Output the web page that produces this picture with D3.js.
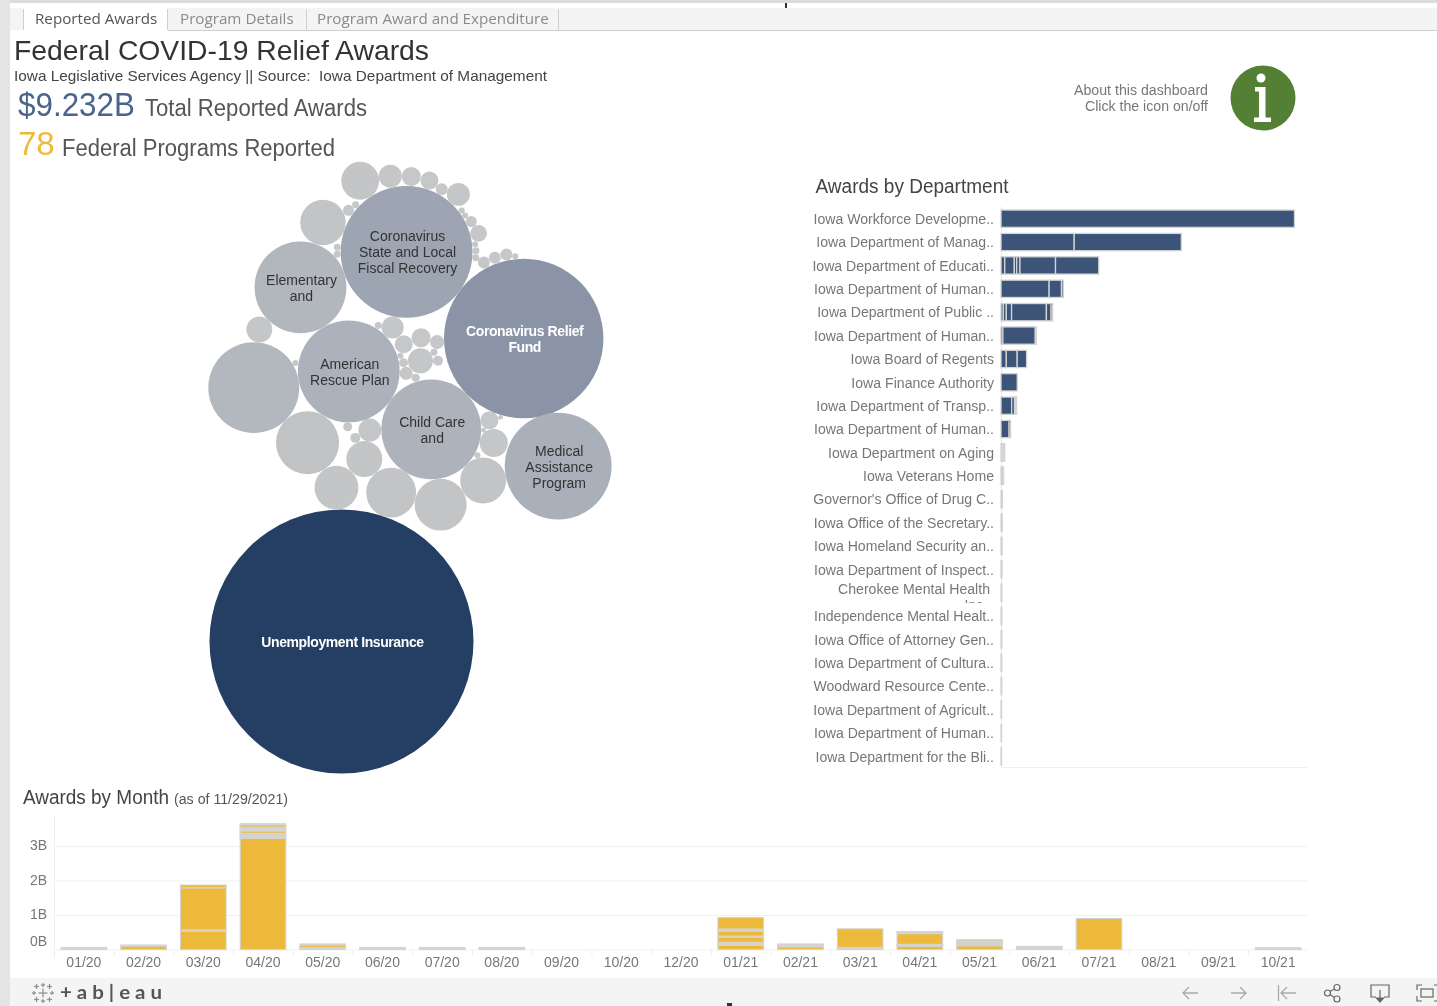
<!DOCTYPE html>
<html>
<head>
<meta charset="utf-8">
<title>Federal COVID-19 Relief Awards</title>
<script src="https://cdn.jsdelivr.net/npm/d3@7"></script>
<style>
  html, body { margin: 0; padding: 0; background: #fff; overflow: hidden; }
  svg { display: block; font-family: "Liberation Sans", Arial, sans-serif; filter: blur(0.3px); }
  text { white-space: pre; }
  .domain { display: none; }
</style>
</head>
<body>
<script>
// Tabs and headline numbers
const tabNames = ["Reported Awards", "Program Details", "Program Award and Expenditure"];
const totalAwards = "$9.232B";
const programCount = "78";

// Programs, award in $M
const programIds = ["ui", "g391", "g336", "g364", "g441", "child", "g484", "g492", "g489", "crf", "med", "g368", "arp",
  "g406", "g403", "g420", "g398", "g405", "g392", "cslfr", "elem", "g423", "g437", "g436", "g437c", "g410",
  "g308", "g252", "g260", "g322", "g348", "g357", "g361", "g391t", "g412", "g431", "g443", "g459", "g463", "g465",
  "g471", "g478", "g472", "g473", "g474", "g483", "g493", "g505", "g514", "g336b", "g336a", "g354", "g346",
  "g293", "g379", "g478b", "g482", "g498"];
const programAwards = [3440, 123, 95, 64, 133, 492, 104, 39, 16, 1255, 564, 26, 512,
  8.3, 4, 31, 1.8, 16, 24, 858, 417, 18, 9.7, 2.4, 4.9, 3.2,
  196, 408, 33, 102, 6, 2.4, 71, 26, 18, 16, 7.1, 26, 1.8, 1.8,
  6, 14, 1.8, 2.4, 2.4, 7.1, 7.1, 7.1, 1.8, 2.4, 2.4, 4.9, 4,
  1.8, 2.4, 1.8, 1.2, 1.2];
const programLabels = {
  ui: ["Unemployment Insurance"],
  crf: ["Coronavirus Relief", "Fund"],
  cslfr: ["Coronavirus", "State and Local", "Fiscal Recovery"],
  arp: ["American", "Rescue Plan"],
  child: ["Child Care", "and"],
  elem: ["Elementary", "and"],
  med: ["Medical", "Assistance", "Program"]
};

// Which bubbles each bubble leans on in the packing: [id, neighbour a, neighbour b, side, gap to b]
const packRules = [
  ["g336", "ui", "g391", -1, 8], ["g364", "g336", "g391", -1, 0], ["g441", "g391", "ui", -1, 11],
  ["child", "g391", "g441", -1, 0], ["g484", "g441", "child", 1, 0], ["g492", "child", "g484", -1, 2],
  ["g489", "child", "g492", -1, 0], ["crf", "child", "g489", -1, 0], ["med", "g484", "crf", 1, -1],
  ["g368", "g364", "child", -1, 0], ["arp", "child", "g368", 1, 0], ["g406", "arp", "child", -1, 5],
  ["g403", "arp", "g406", -1, 0], ["g420", "g406", "g403", 1, 0], ["g398", "arp", "g403", -1, 0],
  ["g405", "g398", "g420", -1, 2], ["g392", "arp", "g405", -1, 0], ["cslfr", "crf", "g392", 1, 0],
  ["elem", "arp", "cslfr", -1, 0], ["g423", "g405", "g420", -1, 1], ["g437", "g423", "crf", 1, 0],
  ["g436", "g420", "g437", 1, 0], ["g437c", "g420", "g436", 1, 1], ["g410", "g406", "child", -1, 0],
  ["g308", "arp", "g336", 1, 0], ["g252", "arp", "g308", 1, 0], ["g260", "g252", "elem", -1, 0],
  ["g322", "elem", "cslfr", -1, 0], ["g348", "g322", "cslfr", -1, 0], ["g357", "g348", "cslfr", -1, 0],
  ["g361", "cslfr", "g357", 1, 2], ["g391t", "g361", "cslfr", -1, 0], ["g412", "g391t", "cslfr", -1, 0],
  ["g431", "g412", "cslfr", -1, 0], ["g443", "g431", "cslfr", -1, 0], ["g459", "g443", "cslfr", -1, 0],
  ["g463", "cslfr", "g459", 1, 2], ["g465", "g463", "cslfr", -1, 0], ["g471", "g465", "cslfr", -1, 0],
  ["g478", "g471", "cslfr", -1, 0], ["g472", "g478", "cslfr", -1, 0], ["g473", "g472", "cslfr", -1, 0],
  ["g474", "g473", "cslfr", -1, 0], ["g483", "crf", "g474", 1, 0], ["g493", "crf", "g483", 1, 0],
  ["g505", "crf", "g493", 1, 0], ["g514", "crf", "g505", 1, 0], ["g336b", "cslfr", "elem", 1, 0],
  ["g336a", "g336b", "cslfr", -1, 0], ["g354", "g368", "g364", 1, 0], ["g346", "arp", "g354", 1, 4],
  ["g293", "g252", "arp", -1, 0], ["g379", "arp", "g392", -1, 0], ["g478b", "child", "g484", -1, 0],
  ["g482", "g489", "child", -1, 0], ["g498", "g489", "crf", 1, 0]
];

// Awards by department, $M per program inside each bar
const departments = ["Iowa Workforce Developme..", "Iowa Department of Manag..", "Iowa Department of Educati..",
  "Iowa Department of Human..", "Iowa Department of Public ..", "Iowa Department of Human..", "Iowa Board of Regents",
  "Iowa Finance Authority", "Iowa Department of Transp..", "Iowa Department of Human..", "Iowa Department on Aging",
  "Iowa Veterans Home", "Governor's Office of Drug C..", "Iowa Office of the Secretary..", "Iowa Homeland Security an..",
  "Iowa Department of Inspect..", "Cherokee Mental Health", "Independence Mental Healt..", "Iowa Office of Attorney Gen..",
  "Iowa Department of Cultura..", "Woodward Resource Cente..", "Iowa Department of Agricult..",
  "Iowa Department of Human..", "Iowa Department for the Bli.."];
const departmentAwards = [[3440], [858, 1255], [44, 112, 28, 38, 417, 507], [564, 145, 20], [27, 35, 62, 408, 55, 18],
  [22, 380, 11], [62, 128, 110], [190], [125, 34, 12, 12], [95, 18], [15, 14, 14], [10, 10, 10], [15], [14], [13], [12], [11], [10], [10],
  [9], [9], [8], [8], [7]];

// Awards by month, $B per program inside each bar
const months = ["01/20", "02/20", "03/20", "04/20", "05/20", "06/20", "07/20", "08/20", "09/20", "10/20", "12/20",
  "01/21", "02/21", "03/21", "04/21", "05/21", "06/21", "07/21", "08/21", "09/21", "10/21"];
const monthAwards = [
  [0.03, 0.03],
  [0.1, 0.03],
  [0.53, 0.04, 1.22, 0.08],
  [3.22, 0.03, 0.03, 0.03, 0.03, 0.03, 0.067, 0.028, 0.028, 0.028, 0.028, 0.067, 0.03],
  [0.03, 0.03, 0.07, 0.03],
  [0.03, 0.03],
  [0.03, 0.03],
  [0.03, 0.03],
  [], [], [],
  [0.12, 0.03, 0.03, 0.03, 0.145, 0.035, 0.145, 0.03, 0.03, 0.33],
  [0.08, 0.03, 0.03, 0.02],
  [0.03, 0.03, 0.54],
  [0.09, 0.03, 0.03, 0.31, 0.03, 0.03],
  [0.11, 0.035, 0.035, 0.035, 0.035, 0.035],
  [0.03, 0.03, 0.03],
  [0.9],
  [], [],
  [0.025, 0.025]
];
const monthTicks = [0, 1, 2, 3];

const blue = "#3c5478";
const yellow = "#ecb93a";
const segmentLine = "#d4d4d4";

const svg = d3.select("body").append("svg").attr("width", 1437).attr("height", 1006);

// width is optional: the original text is narrower than the same size here
function texto(x, y, str, size, color, anchor, width) {
  const t = svg.append("text")
    .attr("x", x).attr("y", y)
    .attr("font-size", size)
    .attr("fill", color)
    .attr("text-anchor", anchor || "start")
    .text(str);
  if (width) {
    t.attr("textLength", width).attr("lengthAdjust", "spacingAndGlyphs");
  }
  return t;
}

// page frame
svg.append("rect").attr("width", 1437).attr("height", 3).attr("fill", "#dcdcdc");
svg.append("rect").attr("width", 10).attr("height", 1006).attr("fill", "#e4e4e4");
svg.append("rect").attr("x", 10).attr("y", 8).attr("width", 1427).attr("height", 22).attr("fill", "#f4f4f4");
svg.append("rect").attr("x", 23).attr("y", 8).attr("width", 145).attr("height", 23).attr("fill", "#fff");
svg.append("line").attr("x1", 168).attr("x2", 1437).attr("y1", 30.5).attr("y2", 30.5).attr("stroke", "#cfcfcf");
svg.append("rect").attr("x", 10).attr("y", 978).attr("width", 1427).attr("height", 28).attr("fill", "#f4f4f4");
svg.append("rect").attr("x", 785).attr("y", 3).attr("width", 2).attr("height", 5).attr("fill", "#333");
svg.append("rect").attr("x", 727).attr("y", 1003).attr("width", 5).attr("height", 3).attr("fill", "#333");

// tabs
const tabLeft = [35, 180, 317];
const tabEdges = [23.5, 167.5, 306.5, 558.5];
tabEdges.forEach(x => {
  svg.append("line").attr("x1", x).attr("x2", x).attr("y1", 9).attr("y2", 30).attr("stroke", "#cfcfcf");
});
tabNames.forEach((name, i) => {
  texto(tabLeft[i], 24, name, 15.2, i == 0 ? "#555" : "#8a8a8a").style("font-family", "'Open Sans'");
});

// headline block
texto(14, 60, "Federal COVID-19 Relief Awards", 28, "#333", "start", 415);
texto(14, 81, "Iowa Legislative Services Agency || Source:  Iowa Department of Management", 15, "#444", "start", 533);
texto(18, 116, totalAwards, 33, "#4a648c", "start", 117);
texto(145, 116, "Total Reported Awards", 23.5, "#555", "start", 222);
texto(18, 155, programCount, 33, "#efb93c");
texto(62, 156, "Federal Programs Reported", 23.5, "#555", "start", 273);

// info button
texto(1208, 95, "About this dashboard", 14, "#777", "end", 134);
texto(1208, 111, "Click the icon on/off", 14, "#777", "end", 123);
svg.append("circle").attr("cx", 1263).attr("cy", 98).attr("r", 32.5).attr("fill", "#538035");
svg.append("circle").attr("cx", 1261).attr("cy", 78).attr("r", 4.5).attr("fill", "#fff");
svg.append("path").attr("fill", "#fff")
  .attr("d", "M1255 87h10.5v30.5h5.5v4.5h-17v-4.5h5v-26h-4z");

// ---- packed bubbles ----
const raio = d3.scaleSqrt().domain([0, d3.max(programAwards)]).range([0, 132]);
const corBolha = d3.scaleLinear()
  .domain([0, 200, 500, 858, 1255, 3440])
  .range(["#c5c7c8", "#c0c2c4", "#adb2bb", "#9ea5b2", "#8b94a6", "#243f63"]);

const bolhas = new Map();
programIds.forEach((id, i) => {
  bolhas.set(id, { id: id, value: programAwards[i], r: raio(programAwards[i]), x: 0, y: 0 });
});

// places p so that it touches a and b, same idea as d3.packSiblings
function encostar(p, a, b, side, extra) {
  const da = a.r + p.r;
  const db = b.r + p.r + extra;
  const dx = b.x - a.x;
  const dy = b.y - a.y;
  const d = Math.hypot(dx, dy);
  const t = (da * da - db * db + d * d) / (2 * d);
  const h = Math.sqrt(Math.max(0, da * da - t * t));
  p.x = a.x + (dx * t - dy * h * side) / d;
  p.y = a.y + (dy * t + dx * h * side) / d;
}

// the first neighbour leans on the big bubble, the rest follow the rules
const seedAngle = -1.249;
const seed = bolhas.get("g391");
seed.x = (bolhas.get("ui").r + seed.r) * Math.cos(seedAngle);
seed.y = (bolhas.get("ui").r + seed.r) * Math.sin(seedAngle);
packRules.forEach(rule => {
  encostar(bolhas.get(rule[0]), bolhas.get(rule[1]), bolhas.get(rule[2]), rule[3], rule[4]);
});

const pack = svg.append("g").attr("transform", "translate(341.5,641.5)");
pack.selectAll("circle")
  .data(Array.from(bolhas.values()))
  .join("circle")
  .attr("cx", d => d.x)
  .attr("cy", d => d.y)
  .attr("r", d => d.r)
  .attr("fill", d => corBolha(d.value));

Object.keys(programLabels).forEach(id => {
  const b = bolhas.get(id);
  const lines = programLabels[id];
  const light = b.value > 1000;
  lines.forEach((line, i) => {
    pack.append("text")
      .attr("x", b.x + 1)
      .attr("y", b.y + (i - (lines.length - 1) / 2) * 16 + 5.5)
      .attr("text-anchor", "middle")
      .attr("font-size", 14)
      .attr("font-weight", light ? "bold" : "normal")
      .attr("letter-spacing", light ? "-0.4" : "0")
      .attr("fill", light ? "#fff" : "#333")
      .text(line);
  });
});

// draws one stacked bar per row or column, segments keep a light outline
function pilha(g, values, strokeWidth, rect) {
  const tops = d3.cumsum(values);
  g.selectAll("rect")
    .data(values)
    .join("rect")
    .attr("stroke", segmentLine)
    .attr("stroke-width", strokeWidth)
    .each(function (v, i) {
      rect(d3.select(this), i == 0 ? 0 : tops[i - 1], tops[i]);
    });
}

// ---- awards by department ----
texto(815.5, 193, "Awards by Department", 20, "#444", "start", 193);

const xDep = d3.scaleLinear().domain([0, 3440]).range([1001, 1294.5]);
// by row number because some names repeat after the cut
const yDep = d3.scaleBand().domain(d3.range(departments.length)).range([207, 768]).paddingInner(0.26).paddingOuter(0.13);

svg.append("line").attr("x1", 1001.5).attr("x2", 1001.5).attr("y1", 207).attr("y2", 768).attr("stroke", "#e6e6e6");
svg.append("line").attr("x1", 1001).attr("x2", 1307).attr("y1", 767.5).attr("y2", 767.5).attr("stroke", "#f0f0f0");

const axisDep = svg.append("g")
  .attr("transform", "translate(1001,0)")
  .call(d3.axisLeft(yDep).tickFormat(i => departments[i]).tickSize(0).tickPadding(7));
axisDep.selectAll("text")
  .attr("font-size", 14)
  .attr("font-family", "Liberation Sans")
  .attr("fill", "#777")
  .attr("dy", "0.37em")
  .attr("textLength", function () { return this.getComputedTextLength() + 1; })
  .attr("lengthAdjust", "spacingAndGlyphs");

// this label wraps in the original and its second line gets cut
svg.append("clipPath").attr("id", "corteInc")
  .append("rect").attr("x", 900).attr("y", 580).attr("width", 100).attr("height", 23);
axisDep.selectAll("g.tick")
  .filter(i => departments[i] == "Cherokee Mental Health")
  .select("text").attr("x", -11).attr("dy", "0.1em");
svg.append("text")
  .attr("x", 987).attr("y", 610)
  .attr("text-anchor", "end")
  .attr("font-size", 14)
  .attr("fill", "#777")
  .attr("clip-path", "url(#corteInc)")
  .text("Inc.");

departments.forEach((dep, i) => {
  pilha(svg.append("g"), departmentAwards[i], 1.3, (r, start, end) => {
    r.attr("x", xDep(start))
      .attr("width", xDep(end) - xDep(start))
      .attr("y", yDep(i))
      .attr("height", yDep.bandwidth())
      .attr("fill", blue);
  });
});

// ---- awards by month ----
texto(23, 804, "Awards by Month", 20, "#444", "start", 146);
texto(174, 804, "(as of 11/29/2021)", 14, "#555", "start", 114);

const xMes = d3.scaleBand().domain(months).range([54, 1308]).paddingInner(0.236).paddingOuter(0.118);
const yMes = d3.scaleLinear().domain([0, 3.65]).range([949.5, 823.6]);

const axisY = svg.append("g")
  .attr("transform", "translate(54,0)")
  .call(d3.axisLeft(yMes).tickValues(monthTicks).tickFormat(d => d + "B").tickSize(-1254).tickPadding(7));
axisY.selectAll("line").attr("stroke", "#f1f1f1");
axisY.selectAll("text")
  .attr("font-size", 14)
  .attr("font-family", "Liberation Sans")
  .attr("fill", "#777")
  .attr("x", -7)
  .attr("dy", "0.25em");
// the zero label sits above the baseline in the original
axisY.selectAll("g.tick").filter(d => d == 0).select("text").attr("dy", "-0.32em");
svg.append("line").attr("x1", 54.5).attr("x2", 54.5).attr("y1", 816).attr("y2", 958).attr("stroke", "#efefef");

const axisX = svg.append("g")
  .attr("transform", "translate(0,949.5)")
  .call(d3.axisBottom(xMes).tickSize(0).tickPadding(8));
axisX.selectAll("text")
  .attr("font-size", 14)
  .attr("font-family", "Liberation Sans")
  .attr("fill", "#777")
  .attr("dy", "0.71em");
svg.append("g").selectAll("line")
  .data(months)
  .join("line")
  .attr("x1", d => xMes(d) - xMes.step() * 0.118 + 0.5)
  .attr("x2", d => xMes(d) - xMes.step() * 0.118 + 0.5)
  .attr("y1", 949.5)
  .attr("y2", 956)
  .attr("stroke", "#efefef");

months.forEach((mes, i) => {
  pilha(svg.append("g"), monthAwards[i], 1.1, (r, start, end) => {
    r.attr("x", xMes(mes))
      .attr("width", xMes.bandwidth())
      .attr("y", yMes(end))
      .attr("height", yMes(start) - yMes(end))
      .attr("fill", yellow);
  });
});

// ---- tableau footer ----
const logo = svg.append("g").attr("transform", "translate(43,993)").attr("stroke", "#8d8d8d").attr("stroke-width", 1.2);
[[0, 0, 4.5], [-6.5, -6.5, 2.5], [6.5, -6.5, 2.5], [-6.5, 6.5, 2.5], [6.5, 6.5, 2.5], [0, -8, 2], [0, 8, 2], [-9, 0, 2], [9, 0, 2]].forEach(c => {
  logo.append("line").attr("x1", c[0] - c[2]).attr("x2", c[0] + c[2]).attr("y1", c[1]).attr("y2", c[1]);
  logo.append("line").attr("x1", c[0]).attr("x2", c[0]).attr("y1", c[1] - c[2]).attr("y2", c[1] + c[2]);
});
texto(60, 999, "+ a b | e a u", 18, "#555", "start", 102).style("font-family", "Lato").attr("font-weight", "bold");

const icons = svg.append("g").attr("fill", "none").attr("stroke", "#aaa").attr("stroke-width", 1.3);
icons.append("path").attr("d", "M1198 993h-15m6 -6l-6 6l6 6");
icons.append("path").attr("d", "M1231 993h15m-6 -6l6 6l-6 6");
icons.append("path").attr("d", "M1278.5 985v16M1296 993h-15m6 -6l-6 6l6 6");
const tools = svg.append("g").attr("fill", "none").attr("stroke", "#666").attr("stroke-width", 1.2);
tools.append("circle").attr("cx", 1327.5).attr("cy", 993).attr("r", 3);
tools.append("circle").attr("cx", 1337).attr("cy", 987.5).attr("r", 3);
tools.append("circle").attr("cx", 1337).attr("cy", 999).attr("r", 3);
tools.append("path").attr("d", "M1330 991.5l4.5 -2.5M1330 994.5l4.5 3");
tools.append("path").attr("d", "M1376 997h-5v-12h18v12h-5M1380 990v10");
tools.append("path").attr("fill", "#666").attr("d", "M1376.5 998h7l-3.5 4z");
tools.append("rect").attr("x", 1421).attr("y", 989).attr("width", 12).attr("height", 8);
tools.append("path").attr("d", "M1417 990v-5h5M1437 985h-3M1417 996v5h5M1437 1001h-3");
</script>
</body>
</html>
